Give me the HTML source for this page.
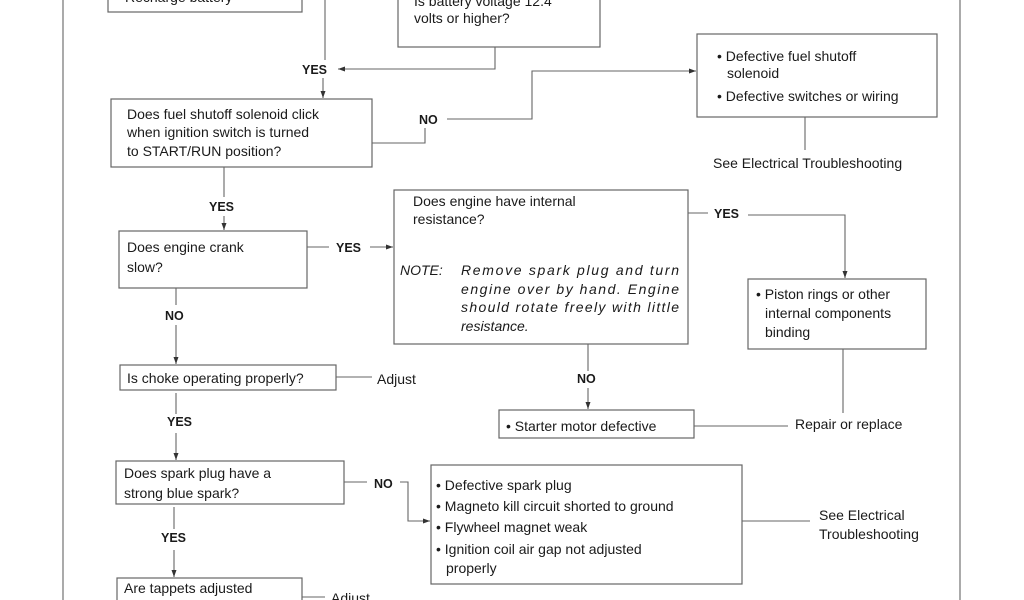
<!DOCTYPE html>
<html><head><meta charset="utf-8"><style>
html,body{margin:0;padding:0;background:#fff;}
svg{display:block;}
text{font-family:"Liberation Sans",sans-serif;font-size:14px;fill:#1a1a1a;}
.b{font-weight:bold;font-size:12.5px;}
.i{font-style:italic;}
rect{fill:none;stroke:#666;stroke-width:1.2;}
.l{fill:none;stroke:#666;stroke-width:1.1;}
</style></head><body>
<svg width="1024" height="600" viewBox="0 0 1024 600" xmlns="http://www.w3.org/2000/svg">
<defs><marker id="a" markerWidth="8" markerHeight="8" refX="7" refY="4" orient="auto" markerUnits="userSpaceOnUse"><path d="M0,1.5 L7,4 L0,6.5 z" fill="#333"/></marker></defs>
<line class="l" x1="63" y1="0" x2="63" y2="600"/>
<line class="l" x1="960" y1="0" x2="960" y2="600"/>

<rect x="108" y="-5" width="194" height="17"/>
<text x="125" y="2">Recharge battery</text>
<rect x="398" y="-5" width="202" height="52"/>
<text x="414" y="6">Is battery voltage 12.4</text>
<text x="414" y="23">volts or higher?</text>

<line class="l" x1="325" y1="0" x2="325" y2="60"/>
<text class="b" x="302" y="74">YES</text>
<polyline class="l" points="495,47 495,69 338,69" marker-end="url(#a)"/>
<line class="l" x1="323" y1="78" x2="323" y2="98" marker-end="url(#a)"/>

<rect x="111" y="99" width="261" height="68"/>
<text x="127" y="119">Does fuel shutoff solenoid click</text>
<text x="127" y="137">when ignition switch is turned</text>
<text x="127" y="156">to START/RUN position?</text>
<polyline class="l" points="372,143 425,143 425,128"/>
<text class="b" x="419" y="124">NO</text>
<polyline class="l" points="447,119 532,119 532,71 696,71" marker-end="url(#a)"/>

<rect x="697" y="34" width="240" height="83"/>
<text x="717" y="61">• Defective fuel shutoff</text>
<text x="727" y="78">solenoid</text>
<text x="717" y="101">• Defective switches or wiring</text>
<line class="l" x1="805" y1="117" x2="805" y2="150"/>
<text x="713" y="168">See Electrical Troubleshooting</text>

<line class="l" x1="224" y1="167" x2="224" y2="197"/>
<text class="b" x="209" y="211">YES</text>
<line class="l" x1="224" y1="216" x2="224" y2="230" marker-end="url(#a)"/>

<rect x="119" y="231" width="188" height="57"/>
<text x="127" y="252">Does engine crank</text>
<text x="127" y="272">slow?</text>
<line class="l" x1="307" y1="247" x2="329" y2="247"/>
<text class="b" x="336" y="252">YES</text>
<line class="l" x1="370" y1="247" x2="393" y2="247" marker-end="url(#a)"/>

<rect x="394" y="190" width="294" height="154"/>
<text x="413" y="206">Does engine have internal</text>
<text x="413" y="224">resistance?</text>
<text class="i" x="400" y="275">NOTE:</text>
<text class="i" x="461" y="275" textLength="218">Remove spark plug and turn</text>
<text class="i" x="461" y="294" textLength="218">engine over by hand. Engine</text>
<text class="i" x="461" y="312" textLength="218">should rotate freely with little</text>
<text class="i" x="461" y="331">resistance.</text>

<line class="l" x1="688" y1="213" x2="708" y2="213"/>
<text class="b" x="714" y="218">YES</text>
<polyline class="l" points="748,215 845,215 845,278" marker-end="url(#a)"/>
<rect x="748" y="279" width="178" height="70"/>
<text x="756" y="299">• Piston rings or other</text>
<text x="765" y="318">internal components</text>
<text x="765" y="337">binding</text>
<line class="l" x1="843" y1="349" x2="843" y2="413"/>
<text x="795" y="429">Repair or replace</text>

<line class="l" x1="588" y1="344" x2="588" y2="371"/>
<text class="b" x="577" y="383">NO</text>
<line class="l" x1="588" y1="388" x2="588" y2="409" marker-end="url(#a)"/>
<rect x="499" y="410" width="195" height="28"/>
<text x="506" y="431">• Starter motor defective</text>
<line class="l" x1="694" y1="426" x2="788" y2="426"/>

<line class="l" x1="176" y1="288" x2="176" y2="305"/>
<text class="b" x="165" y="320">NO</text>
<line class="l" x1="176" y1="325" x2="176" y2="364" marker-end="url(#a)"/>
<rect x="120" y="365" width="216" height="25"/>
<text x="127" y="383">Is choke operating properly?</text>
<line class="l" x1="336" y1="377" x2="372" y2="377"/>
<text x="377" y="384">Adjust</text>

<line class="l" x1="176" y1="393" x2="176" y2="414"/>
<text class="b" x="167" y="426">YES</text>
<line class="l" x1="176" y1="433" x2="176" y2="460" marker-end="url(#a)"/>
<rect x="116" y="461" width="228" height="43"/>
<text x="124" y="478">Does spark plug have a</text>
<text x="124" y="498">strong blue spark?</text>
<line class="l" x1="344" y1="482" x2="367" y2="482"/>
<text class="b" x="374" y="488">NO</text>
<polyline class="l" points="400,482 408,482 408,521 430,521" marker-end="url(#a)"/>

<rect x="431" y="465" width="311" height="119"/>
<text x="436" y="490">• Defective spark plug</text>
<text x="436" y="511">• Magneto kill circuit shorted to ground</text>
<text x="436" y="532">• Flywheel magnet weak</text>
<text x="436" y="554">• Ignition coil air gap not adjusted</text>
<text x="446" y="573">properly</text>
<line class="l" x1="742" y1="521" x2="810" y2="521"/>
<text x="819" y="520">See Electrical</text>
<text x="819" y="539">Troubleshooting</text>

<line class="l" x1="174" y1="507" x2="174" y2="529"/>
<text class="b" x="161" y="542">YES</text>
<line class="l" x1="174" y1="550" x2="174" y2="577" marker-end="url(#a)"/>
<rect x="117" y="578" width="185" height="30"/>
<text x="124" y="593">Are tappets adjusted</text>
<line class="l" x1="302" y1="597" x2="325" y2="597"/>
<text x="331" y="603">Adjust</text>
</svg>
</body></html>
